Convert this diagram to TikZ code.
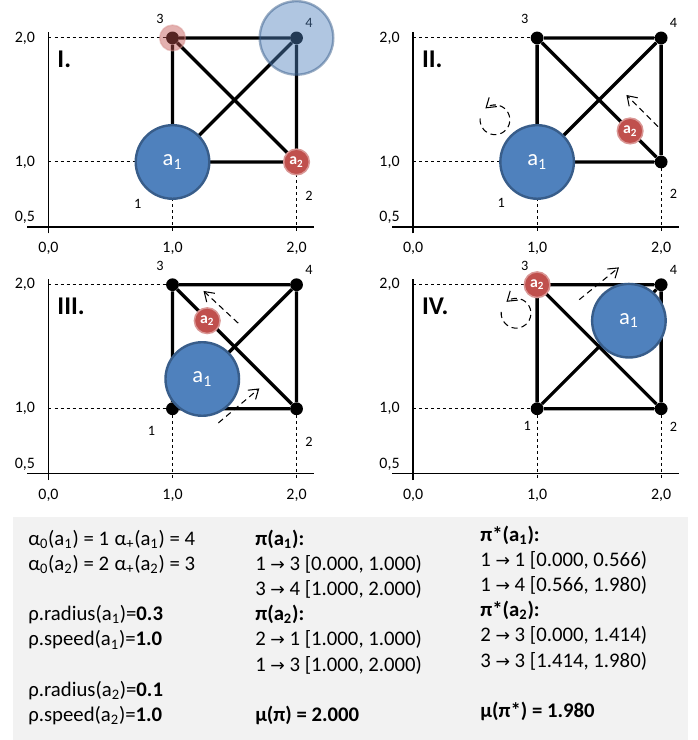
\documentclass[tikz,border=0pt]{standalone}
\usepackage{fontspec}
\setmainfont{Carlito}
\newfontfamily\symfont{DejaVu Sans}
\usetikzlibrary{arrows.meta}
\definecolor{agentblue}{HTML}{4F81BD}
\definecolor{agentblueline}{HTML}{385D8A}
\definecolor{agentred}{HTML}{C0504D}
\definecolor{boxgray}{HTML}{F2F2F2}
\newcommand\sbs[1]{\textsubscript{#1}}
\newcommand\arr{{\symfont\fontsize{11.5}{13}\selectfont →}}

\begin{document}
\begin{tikzpicture}[x=2.9cm,y=2.9cm,
    edge/.style={line width=2.2pt},
    axis/.style={line width=1.3pt},
    guide/.style={line width=0.7pt,dash pattern=on 2pt off 2pt},
    vertex/.style={circle,fill=black,inner sep=0pt,minimum size=0.3cm},
    move/.style={line width=0.7pt,dash pattern=on 4pt off 2.7pt,-{Straight Barb[length=6pt,width=8pt]}},
    agentA/.style={circle,fill=agentblue,draw=agentblueline,line width=1.6pt,minimum size=1.72cm,inner sep=0pt,text=white,font=\fontsize{15}{18}\selectfont},
    agentB/.style={circle,fill=agentred,draw=agentred!60!white,line width=1pt,minimum size=0.6cm,inner sep=0pt,text=white,font=\fontsize{10.5}{12}\selectfont\bfseries},
    ghost/.style={fill opacity=0.45,draw opacity=0.5},
    tick/.style={font=\fontsize{10.6}{12}\selectfont,inner sep=0pt},
    vlabel/.style={font=\fontsize{9.5}{11}\selectfont,inner sep=0pt},
    panel/.style={font=\fontsize{17}{20}\selectfont\bfseries,anchor=west,inner sep=0pt},
    txt/.style={font=\fontsize{13.8}{16}\selectfont,anchor=base west,inner sep=0pt}]
    \useasboundingbox (-0.391,-3.661) rectangle (5.230,2.306);

    % grid of the four snapshots
    \foreach \dx/\dy/\nm/\lab/\lx/\ly/\ty in {0/0/A/I./0.72/0.66/0.73, 2.94/0/B/II./0.71/0.67/0.74,
        0/-1.99/C/III./0.83/0.82/0.73, 2.94/-1.99/D/IV./0.92/0.865/0.85}{
    \begin{scope}[shift={(\dx,\dy)}]
        % axes
        \coordinate (\nm-o) at (0,0.425);
        \coordinate (\nm-top) at (0,2.05);
        \coordinate (\nm-l) at (-0.17,0.478);
        \coordinate (\nm-r) at (2.14,0.478);
        \draw[axis] (\nm-o) -- (\nm-top);
        \draw[axis] (\nm-l) -- (\nm-r);

        % vertices
        \node[vertex] (\nm1) at (1,1) {};
        \node[vertex] (\nm2) at (2,1) {};
        \node[vertex] (\nm3) at (1,2) {};
        \node[vertex] (\nm4) at (2,2) {};

        % guides
        \coordinate (\nm-y1) at (0,1);
        \coordinate (\nm-y2) at (0,2);
        \coordinate (\nm-x1) at (1,0.42);
        \coordinate (\nm-x2) at (2,0.42);
        \draw[guide] (\nm-y1) -- (\nm2.center);
        \draw[guide] (\nm-y2) -- (\nm4.center);
        \draw[guide] (\nm1.center) -- (\nm-x1);
        \draw[guide] (\nm2.center) -- (\nm-x2);

        % edges
        \draw[edge] (\nm1) -- (\nm3) -- (\nm4) -- (\nm2) -- (\nm1) -- (\nm4);
        \draw[edge] (\nm3) -- (\nm2);

        % tick labels
        \node[tick] (\nm-t0) at (0,0.3) {0,0};
        \node[tick] (\nm-t1) at (1,0.3) {1,0};
        \node[tick] (\nm-t2) at (2,0.3) {2,0};
        \node[tick] (\nm-s2) at (-0.19,2) {2,0};
        \node[tick] (\nm-s1) at (-0.19,1) {1,0};
        \node[tick] (\nm-s0) at (-0.19,0.55) {0,5};

        % vertex numbers
        \node[vlabel] (\nm-n1) at (\lx,\ly) {1};
        \node[vlabel] (\nm-n2) at (2.1,\ty) {2};
        \node[vlabel] (\nm-n3) at (0.9,2.15) {3};
        \node[vlabel] (\nm-n4) at (2.1,2.12) {4};

        \node[panel] (\nm-lab) at (0.07,1.83) {\lab};
    \end{scope}
    }

    % I.
    \node[agentB,ghost] (A-g2) at (1,2) {};
    \node[agentA,ghost] (A-g1) at (2,2) {};
    \node[agentA] (A-a1) at (1,1) {a\sbs{1}};
    \node[agentB] (A-a2) at (2,1) {a\sbs{2}};

    % II.
    \begin{scope}[shift={(2.94,0)}]
        \node[agentA] (B-a1) at (1,1) {a\sbs{1}};
        \node[agentB] (B-a2) at (1.75,1.25) {a\sbs{2}};
        \coordinate (B-m1) at (1.975,1.285);
        \coordinate (B-m2) at (1.72,1.54);
        \draw[move] (B-m1) -- (B-m2);
        \coordinate (B-spin) at (0.66,1.34);
        \draw[move] (B-spin) ++(175:0.12) arc[start angle=175,end angle=490,radius=0.12];
    \end{scope}

    % III.
    \begin{scope}[shift={(0,-1.99)}]
        \node[agentA] (C-a1) at (1.24,1.24) {a\sbs{1}};
        \node[agentB] (C-a2) at (1.28,1.71) {a\sbs{2}};
        \coordinate (C-m1) at (1.53,1.69);
        \coordinate (C-m2) at (1.25,1.95);
        \draw[move] (C-m1) -- (C-m2);
        \coordinate (C-m3) at (1.37,0.886);
        \coordinate (C-m4) at (1.70,1.164);
        \draw[move] (C-m3) -- (C-m4);
    \end{scope}

    % IV.
    \begin{scope}[shift={(2.94,-1.99)}]
        \node[agentA] (D-a1) at (1.74,1.71) {a\sbs{1}};
        \node[agentB] (D-a2) at (1,2) {a\sbs{2}};
        \coordinate (D-m1) at (1.34,1.88);
        \coordinate (D-m2) at (1.66,2.14);
        \draw[move] (D-m1) -- (D-m2);
        \coordinate (D-spin) at (0.83,1.77);
        \draw[move] (D-spin) ++(175:0.12) arc[start angle=175,end angle=490,radius=0.12];
    \end{scope}

    % legend box
    \fill[boxgray] (-0.286,-1.863) rectangle (5.157,-3.661);
    \foreach \r/\t in {0/{α\sbs{0}(a\sbs{1}) = 1}, 1/{α\sbs{0}(a\sbs{2}) = 2},
        3/{ρ.radius(a\sbs{1})=\textbf{0.3}}, 4/{ρ.speed(a\sbs{1})=\textbf{1.0}},
        6/{ρ.radius(a\sbs{2})=\textbf{0.1}}, 7/{ρ.speed(a\sbs{2})=\textbf{1.0}}}
        \node[txt] (par-\r) at (-0.165,{-2.089-0.2032*\r}) {\t};
    \foreach \r/\t in {0/{α\sbs{+}(a\sbs{1}) = 4}, 1/{α\sbs{+}(a\sbs{2}) = 3}}
        \node[txt] (goal-\r) at (0.53,{-2.089-0.2032*\r}) {\t};
    \foreach \r/\t in {0/{\textbf{π(a\sbs{1}):}}, 1/{1 \arr{} 3 [0.000, 1.000)}, 2/{3 \arr{} 4 [1.000, 2.000)},
        3/{\textbf{π(a\sbs{2}):}}, 4/{2 \arr{} 1 [1.000, 1.000)}, 5/{1 \arr{} 3 [1.000, 2.000)},
        7/{\textbf{μ(π) = 2.000}}}
        \node[txt] (plan-\r) at (1.665,{-2.089-0.2032*\r}) {\t};
    \foreach \r/\t in {0/{\textbf{π*(a\sbs{1}):}}, 1/{1 \arr{} 1 [0.000, 0.566)}, 2/{1 \arr{} 4 [0.566, 1.980)},
        3/{\textbf{π*(a\sbs{2}):}}, 4/{2 \arr{} 3 [0.000, 1.414)}, 5/{3 \arr{} 3 [1.414, 1.980)},
        7/{\textbf{μ(π*) = 1.980}}}
        \node[txt] (opt-\r) at (3.48,{-2.057-0.2032*\r}) {\t};
\end{tikzpicture}
\end{document}
